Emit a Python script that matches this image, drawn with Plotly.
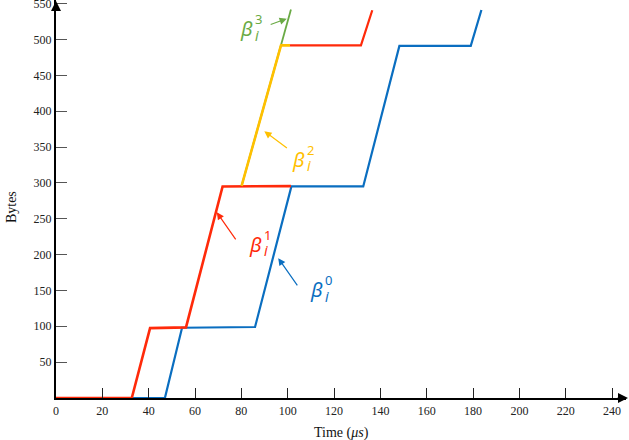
import plotly.graph_objects as go

# ---- data (time in µs, bytes) ----
blue_t = [0, 47.0, 54.4, 85.9, 101.6, 132.6, 148.2, 179.0, 183.6]
blue_b = [0, 0, 98, 99, 295, 295, 491, 491, 541]
red1_t = [0, 32.7, 40.6, 56.1, 71.9, 101.4]
red1_b = [0, 0, 97.5, 98.5, 295, 295.5]
green_t = [80.1, 101.4]
green_b = [295.8, 541.6]
yellow_t = [80.1, 97.1, 101.0]
yellow_b = [295.8, 491.7, 491.7]
red2_t = [101.0, 131.6, 136.5]
red2_b = [491.7, 491.7, 540.7]

x_ticks = [0, 20, 40, 60, 80, 100, 120, 140, 160, 180, 200, 220, 240]
y_ticks = [50, 100, 150, 200, 250, 300, 350, 400, 450, 500, 550]

BLUE = "#0A6EC0"
RED = "#FF2A0A"
YELLOW = "#FFC000"
GREEN = "#6AAA45"

fig = go.Figure()
fig.add_trace(go.Scatter(x=blue_t, y=blue_b, mode="lines", line=dict(color=BLUE, width=2.2)))
fig.add_trace(go.Scatter(x=red1_t, y=red1_b, mode="lines", line=dict(color=RED, width=2.6)))
fig.add_trace(go.Scatter(x=green_t, y=green_b, mode="lines", line=dict(color=GREEN, width=1.8)))
fig.add_trace(go.Scatter(x=yellow_t, y=yellow_b, mode="lines", line=dict(color=YELLOW, width=2.6)))
fig.add_trace(go.Scatter(x=red2_t, y=red2_b, mode="lines", line=dict(color=RED, width=2.2)))

labels = [
    # (beta x, beta y, sup x, sup y, digit, color, arrow tail x,y, head x,y)
    (78.5, 515, 86.6, 528, "3", GREEN, 92.0, 520, 99.6, 529),
    (101.0, 333, 109.1, 346, "2", YELLOW, 100.3, 347, 89.9, 372),
    (82.4, 214, 90.5, 227, "1", RED, 78.0, 219, 69.4, 259),
    (108.8, 151, 116.9, 164, "0", BLUE, 104.6, 155, 95.9, 195),
]
annotations = []
for bx, by, sx, sy, d, c, tx, ty, hx, hy in labels:
    annotations.append(dict(x=bx, y=by, xref="x", yref="y", xanchor="left", yanchor="middle",
                            text="<i>β</i>", showarrow=False,
                            font=dict(family="Noto Sans", size=20, color=c)))
    annotations.append(dict(x=sx, y=by - 9, xref="x", yref="y", xanchor="center", yanchor="middle",
                            text="<i>i</i>", showarrow=False,
                            font=dict(family="Noto Sans", size=14, color=c)))
    annotations.append(dict(x=sx + 0.8, y=sy, xref="x", yref="y", xanchor="center", yanchor="middle",
                            text=d, showarrow=False,
                            font=dict(family="Noto Sans", size=13, color=c)))
    annotations.append(dict(x=hx, y=hy, ax=tx, ay=ty, xref="x", yref="y", axref="x", ayref="y",
                            text="", showarrow=True, arrowhead=2, arrowsize=1.2, arrowwidth=1.2,
                            arrowcolor=c))

# axis arrows
annotations.append(dict(x=0, y=1, xref="paper", yref="paper", ax=0, ay=12, axref="pixel", ayref="pixel",
                        text="", showarrow=True, arrowhead=2, arrowsize=1, arrowwidth=2, arrowcolor="black"))
annotations.append(dict(x=1.004, y=0, xref="paper", yref="paper", ax=-12, ay=0, axref="pixel", ayref="pixel",
                        text="", showarrow=True, arrowhead=2, arrowsize=1, arrowwidth=2, arrowcolor="black"))
# axis titles
annotations.append(dict(x=0.5, y=-0.062, xref="paper", yref="paper", xanchor="center", yanchor="top",
                        text="Time (<i>μs</i>)", showarrow=False,
                        font=dict(family="Liberation Serif", size=14, color="#111")))
annotations.append(dict(x=-0.077, y=0.48, xref="paper", yref="paper", xanchor="center", yanchor="middle",
                        text="Bytes", textangle=-90, showarrow=False,
                        font=dict(family="Liberation Serif", size=14, color="#111")))

fig.update_layout(
    width=629, height=440,
    margin=dict(l=56, r=3, t=0, b=42),
    paper_bgcolor="white", plot_bgcolor="white",
    showlegend=False,
    annotations=annotations,
    xaxis=dict(range=[0, 246], tickvals=x_ticks, ticks="inside", ticklen=10, tickwidth=1.2,
               tickcolor="#222", showline=True, linecolor="black", linewidth=2.2,
               showgrid=False, zeroline=False, automargin=False, ticklabeloverflow="allow",
               tickfont=dict(family="Liberation Serif", size=12, color="#222")),
    yaxis=dict(range=[0, 555], tickvals=y_ticks, ticks="inside", ticklen=11, tickwidth=1.2,
               tickcolor="#555", showline=True, linecolor="black", linewidth=2.2,
               showgrid=False, zeroline=False, automargin=False, ticklabeloverflow="allow",
               tickfont=dict(family="Liberation Serif", size=12, color="#222")),
)

fig.write_html("out.html", config={"displayModeBar": False},
               post_script="document.body.style.margin='0';document.body.style.overflow='hidden';")
